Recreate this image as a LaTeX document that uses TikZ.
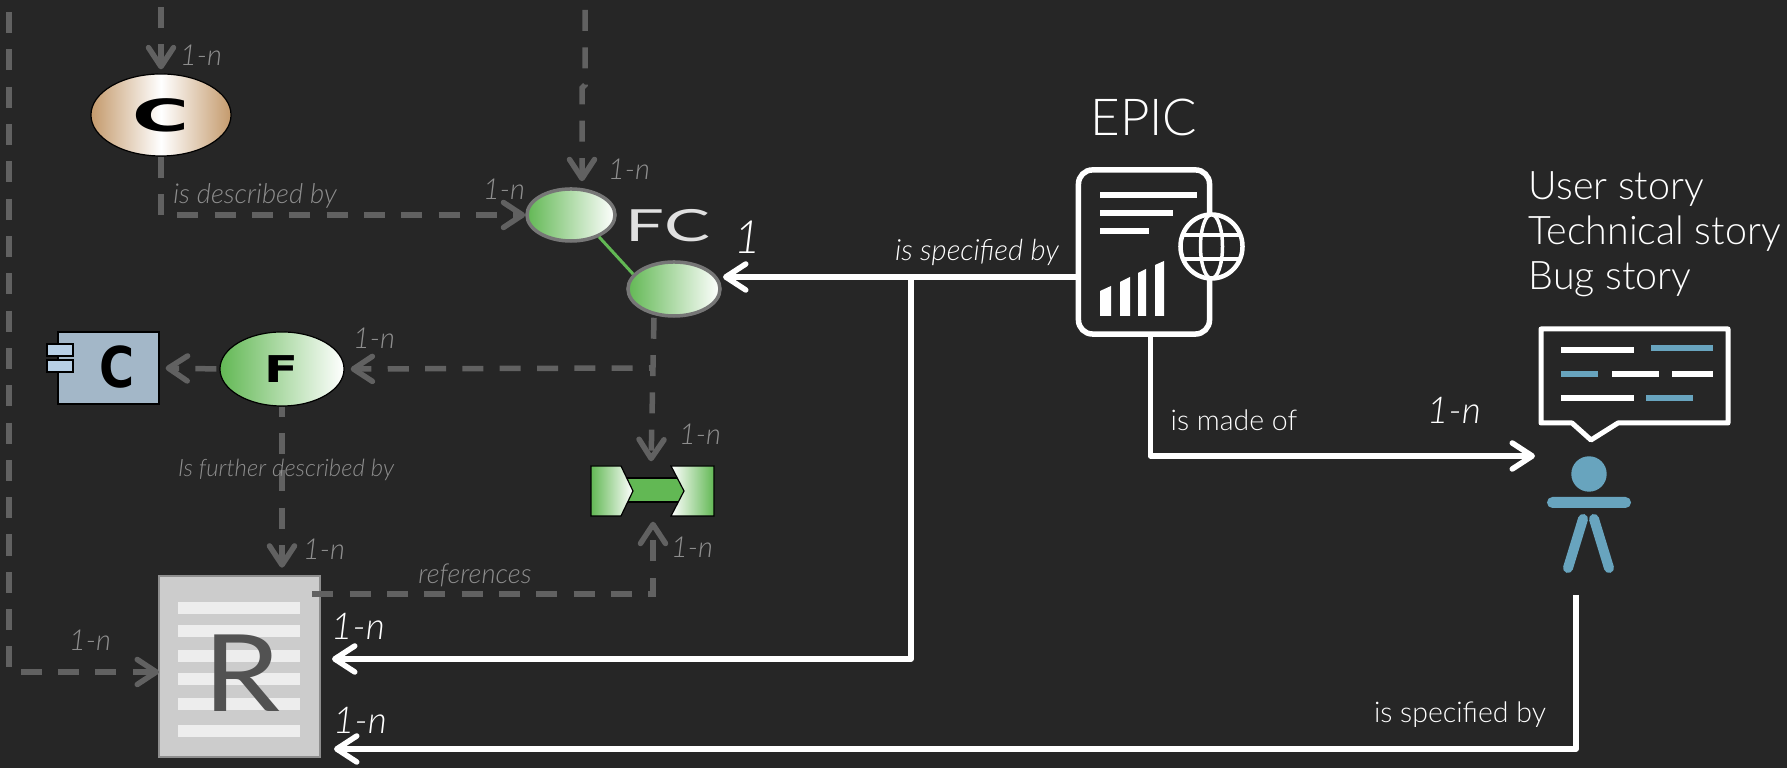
\documentclass[tikz,border=0pt]{standalone}
\usepackage{fontspec}
\setmainfont{Lato Light}[ItalicFont={Lato Light Italic}]
\newfontfamily\midfont{Lato}
\newfontfamily\heavyfont{DejaVu Sans Bold}
\usetikzlibrary{arrows.meta,shapes.geometric,calc}

\definecolor{bgdark}{HTML}{262626}
\definecolor{edgegray}{HTML}{616161}
\definecolor{rimgray}{HTML}{767676}
\definecolor{labelgray}{HTML}{8E8E8E}
\definecolor{leafgreen}{HTML}{62B854}
\definecolor{storyblue}{HTML}{68A4BE}
\definecolor{compblue}{HTML}{A3B7C8}
\definecolor{tabblue}{HTML}{B8D0E6}
\definecolor{tanbrown}{HTML}{C49A6C}

\def\fsize#1{\fontsize{#1}{#1}\selectfont}

\tikzset{
  dashedge/.style={draw=edgegray, line width=0.055cm, dash pattern=on 0.21cm off 0.163cm,
    -{Straight Barb[round,length=0.19cm,width=0.25cm]}},
  whiteedge/.style={draw=white, line width=0.055cm, line join=round,
    -{Straight Barb[round,length=0.2cm,width=0.26cm]}},
  graylabel/.style={text=labelgray, inner sep=0pt, font=\fsize{7.8}\itshape},
  cardgray/.style={text=labelgray, inner sep=0pt, font=\fsize{8.2}\itshape},
  cardwhite/.style={text=white, inner sep=0pt, font=\fsize{10.5}\itshape},
  whitelabel/.style={text=white, inner sep=0pt, font=\fsize{8.1}},
  storytext/.style={text=white, inner sep=0pt, font=\fsize{11.2}},
  greenoval/.style={ellipse, inner sep=0pt, left color=leafgreen, right color=white},
  comptab/.style={rectangle, draw=black, fill=tabblue, line width=0.012cm, inner sep=0pt,
    minimum width=0.26cm, minimum height=0.12cm}
}

\begin{document}
\begin{tikzpicture}[x=0.01cm,y=-0.01cm]
  % Define the background
  \fill[bgdark] (0,0) rectangle (1787,768);
  \useasboundingbox (0,0) rectangle (1787,768);

  % Define the ovals on the left
  \node[ellipse, draw=black, line width=0.012cm, inner sep=0pt, minimum width=1.4cm, minimum height=0.82cm,
    left color=tanbrown, right color=tanbrown, middle color=white] (capC) at (161,115)
    {\heavyfont\fsize{12.6}\scalebox{1.75}[1]{C}};
  \node[greenoval, draw=rimgray, line width=0.035cm, minimum width=0.88cm, minimum height=0.52cm] (fcA) at (571,215) {};
  \node[greenoval, draw=rimgray, line width=0.035cm, minimum width=0.92cm, minimum height=0.54cm] (fcB) at (674,289) {};
  \node[greenoval, draw=black, line width=0.012cm, minimum width=1.24cm, minimum height=0.74cm] (funcF) at (282,369)
    {\heavyfont\fsize{10.5}\scalebox{1.35}[1]{F}};

  % Define the component box
  \node[rectangle, draw=black, fill=compblue, line width=0.012cm, inner sep=0pt,
    minimum width=1.01cm, minimum height=0.72cm] (compC) at (108.5,368) {};
  \node[comptab] (compTabA) at (60,350) {};
  \node[comptab] (compTabB) at (60,366) {};
  \node[text=black, inner sep=0pt] (compLetter) at (117,367) {\heavyfont\fsize{16}\scalebox{0.85}[1]{C}};

  % Define the two-ended green shape
  \node[inner sep=0pt, minimum width=1.23cm, minimum height=0.5cm] (funcRef) at (652.5,491) {};
  \draw[fill=leafgreen, draw=black, line width=0.012cm] (625,478) rectangle (686,502);
  \shade[left color=leafgreen, right color=white, draw=black, line width=0.012cm]
    (591,466) -- (621,466) -- (633,491) -- (621,516) -- (591,516) -- cycle;
  \shade[left color=white, right color=leafgreen, draw=black, line width=0.012cm]
    (671,466) -- (714,466) -- (714,516) -- (671,516) -- (684,491) -- cycle;

  % Define the document
  \node[rectangle, draw=labelgray, fill=black!20, line width=0.025cm, inner sep=0pt,
    minimum width=1.61cm, minimum height=1.81cm] (docR) at (239.5,666.5) {};
  \foreach \y in {608,631.5,656,679,704,731} {
    \fill[black!7] (178,\y-6) rectangle (300,\y+6);
  }
  \node[text=black!68, inner sep=0pt, anchor=base] (docLetter) at (242,712) {\midfont\fsize{30.4}\scalebox{1.15}[1]{R}};

  % Define the epic icon
  \node[rectangle, rounded corners=0.14cm, draw=white, line width=0.055cm, inner sep=0pt,
    minimum width=1.31cm, minimum height=1.64cm] (epicBox) at (1144,252) {};
  \foreach \xa/\xb/\y in {1100/1197/195,1100/1173/213,1100/1149/231} {
    \fill[white] (\xa,\y-3) rectangle (\xb,\y+3);
  }
  \foreach \xa/\xb/\ya/\yb in {1100/1111/291/286,1120/1130/282/277,1138/1146/273/269,1155/1164/265/261} {
    \fill[white] (\xa,316) -- (\xa,\ya) -- (\xb,\yb) -- (\xb,316) -- cycle;
  }
  \node[ellipse, draw=white, fill=bgdark, line width=0.045cm, inner sep=0pt,
    minimum width=0.62cm, minimum height=0.64cm] (epicGlobe) at (1211.5,246.5) {};
  \draw[white, line width=0.035cm] (epicGlobe.center) ellipse (11 and 32);
  \draw[white, line width=0.035cm] (1183,235) -- (1240,235) (1183,259) -- (1240,259);

  % Define the story bubble and the person
  \coordinate (bubbleTL) at (1541,329);
  \draw[white, line width=0.05cm, line join=round, fill=bgdark] (bubbleTL) -- (1728,329) -- (1728,423) -- (1618,423)
    -- (1591,440) -- (1572,423) -- (1541,423) -- cycle;
  \foreach \xa/\xb/\y in {1561/1634/350,1612/1659/374,1672/1713/374,1561/1634/398} {
    \fill[white] (\xa,\y-3) rectangle (\xb,\y+3);
  }
  \foreach \xa/\xb/\y in {1651/1713/348,1561/1598/374,1646/1693/398} {
    \fill[storyblue] (\xa,\y-3) rectangle (\xb,\y+3);
  }
  \node[circle, fill=storyblue, inner sep=0pt, minimum size=0.354cm] (personHead) at (1589,474) {};
  \node[rectangle, rounded corners=0.055cm, fill=storyblue, inner sep=0pt, minimum width=0.84cm, minimum height=0.11cm] (personArms) at (1589,502.5) {};
  \draw[storyblue, line width=0.1cm, line cap=round] (1583,519) -- (1568,568);
  \draw[storyblue, line width=0.1cm, line cap=round] (1594,519) -- (1609,568);

  % Define the free ends of the connectors
  \coordinate (leftTop) at (9,12);
  \coordinate (docTipL) at (159,672);
  \coordinate (capTop) at (161,7);
  \coordinate (fcTop) at (585,10);
  \coordinate (specTip) at (723,277);
  \coordinate (specJoin) at (911,277);
  \coordinate (docTipA) at (332,659);
  \coordinate (docTipB) at (334,749);
  \coordinate (storyEnd) at (1576,595);
  \coordinate (storyTip) at (1535,456);

  % Draw the gray connectors
  \draw[dashedge] (leftTop) |- (docTipL);
  \draw[dashedge, shorten >=0.04cm] (capTop) -- (capC.north);
  \draw[dashedge] (capC.south) |- (fcA.west);
  \draw[dashedge, shorten >=0.06cm] (fcTop) -- (585,85) -- (582,88) -- (fcA.north -| 582,0);
  \draw[draw=leafgreen, line width=0.03cm] (fcA.-38) -- (fcB.160);
  \draw[dashedge, dash phase=0.16cm, shorten >=0.06cm] (654,368) -- (funcF.east);
  \draw[dashedge, shorten >=0.04cm] (fcB.south -| 654,0) -- (funcRef.north -| 651,0);
  \draw[dashedge, shorten >=0.06cm, shorten <=0.03cm] (funcF.west) -- (compC.east);
  \draw[dashedge, dash phase=0.11cm, shorten >=0.07cm] (funcF.south) -- (funcF.south |- docR.north);
  \draw[dashedge, shorten >=0.05cm] (docR.east |- 0,594) ++(-9,0) -| (funcRef.south -| 653,0);

  % Draw the white connectors
  \draw[whiteedge] (epicBox.west |- specTip) -- (specTip);
  \draw[whiteedge] (specJoin) |- (docTipA);
  \draw[whiteedge] (storyEnd) |- (docTipB);
  \draw[whiteedge] (epicBox.south -| 1150.5,0) |- (storyTip);

  % Draw the labels
  \node[inner sep=0pt, text=black!12] (fcLabel) at (668,226) {\midfont\fsize{12.6}\scalebox{1.55}[1]{FC}};
  \node[graylabel] (descLabel) at (255,196) {is described by};
  \node[graylabel, font=\fsize{6.8}\itshape] (furtherLabel) at (286,470) {Is further described by};
  \node[graylabel] (refLabel) at (475,575) {references};
  \node[text=white, inner sep=0pt, font=\fsize{8.3}\itshape] (specLabelA) at (977,252) {is specified by};
  \node[whitelabel] (specLabelB) at (1460,715) {is specified by};
  \node[whitelabel] (madeLabel) at (1234,420) {is made of};
  \node[text=white, inner sep=0pt, font=\fsize{14.5}] (epicLabel) at (1144,117) {EPIC};
  \foreach \y/\t in {200/User story,245/Technical story,290/Bug story} {
    \node[storytext, anchor=base west] (story\y) at (1528,\y) {\t};
  }

  % Draw the cardinalities
  \foreach \i/\x/\y in {a/201/55,b/629/169,c/504/189,d/374/338,e/700/434,f/324/549,g/692/547,h/90/640} {
    \node[cardgray] (card\i) at (\x,\y) {1-n};
  }
  \foreach \i/\x/\y in {a/358/626,b/360/720,c/1454/410} {
    \node[cardwhite] (cardw\i) at (\x,\y) {1-n};
  }
  \node[cardwhite, font=\fsize{13}\itshape] (cardwOne) at (748,237) {1};
\end{tikzpicture}
\end{document}
